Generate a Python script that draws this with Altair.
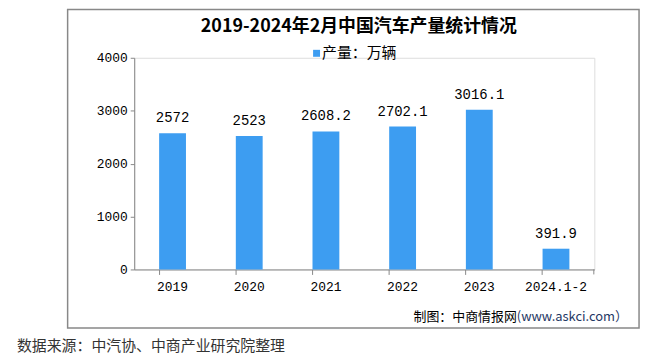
import altair as alt
import pandas as pd

categories = ["2019", "2020", "2021", "2022", "2023", "2024.1-2"]
values = [2572, 2523, 2608.2, 2702.1, 3016.1, 391.9]
labels = ["2572", "2523", "2608.2", "2702.1", "3016.1", "391.9"]
title_text = "2019-2024年2月中国汽车产量统计情况"
legend_text = "产量：万辆"
credit_text = "制图：中商情报网"
credit_url = "(www.askci.com）"
source_text = "数据来源：中汽协、中商产业研究院整理"

BLUE = "#3d9df1"
GREY = "#888888"
CJK = "Noto Sans CJK SC"
NUM = "Liberation Mono"

df = pd.DataFrame({"cat": categories, "val": values, "lab": labels})

W, H = 463, 213

xenc = alt.X("cat:N", sort=categories, title=None,
             scale=alt.Scale(paddingInner=0.65, paddingOuter=0.325),
             axis=alt.Axis(labelAngle=0, labelFont=NUM, labelFontSize=13, labelColor="#000",
                           labelPadding=6, domainColor=GREY, tickColor=GREY, tickSize=5,
                           bandPosition=0, grid=False))
yenc = alt.Y("val:Q", title=None,
             scale=alt.Scale(domain=[0, 4000], nice=False),
             axis=alt.Axis(values=[0, 1000, 2000, 3000, 4000], format="d", labelFont=NUM,
                           labelFontSize=13, labelColor="#000", domainColor=GREY,
                           tickColor=GREY, tickSize=4, labelPadding=3, grid=False))

bars = alt.Chart(df).mark_bar(color=BLUE).encode(x=xenc, y=yenc)
text = alt.Chart(df).mark_text(dy=-15, font=NUM, fontSize=14, color="#000").encode(
    x=alt.X("cat:N", sort=categories), y="val:Q", text="lab:N")

one = pd.DataFrame({"a": [0]})

end_tick = alt.Chart(one).mark_rule(color=GREY, strokeWidth=1).encode(
    x=alt.value(W - 0.5), y=alt.value(H), y2=alt.value(H + 5))

box = alt.Chart(one).mark_rect(fill=None, stroke=GREY, strokeWidth=1.5).encode(
    x=alt.value(-67), x2=alt.value(508), y=alt.value(-48.5), y2=alt.value(272))

title = alt.Chart(one).mark_text(font=CJK, fontSize=18, fontWeight="bold", color="#000",
                                 align="center", baseline="middle").encode(
    x=alt.value(226), y=alt.value(-30.5), text=alt.value(title_text))

leg_sq = alt.Chart(one).mark_square(size=49, color=BLUE, opacity=1).encode(
    x=alt.value(183.5), y=alt.value(-4.5))
leg_tx = alt.Chart(one).mark_text(font=CJK, fontSize=15, color="#000", align="left",
                                  baseline="middle").encode(
    x=alt.value(189), y=alt.value(-4.5), text=alt.value(legend_text))

cred1 = alt.Chart(one).mark_text(font=CJK, fontSize=13, color="#000", align="right",
                                 baseline="middle").encode(
    x=alt.value(385), y=alt.value(261), text=alt.value(credit_text))
cred2 = alt.Chart(one).mark_text(font=CJK, fontSize=13, color="#1f3864", align="left",
                                 baseline="middle").encode(
    x=alt.value(385), y=alt.value(261), text=alt.value(credit_url))

source = alt.Chart(one).mark_text(font=CJK, fontSize=15, color="#333", align="left",
                                  baseline="bottom").encode(
    x=alt.value(-118), y=alt.value(298), text=alt.value(source_text))

chart = alt.layer(box, bars, end_tick, text, title, leg_sq, leg_tx, cred1, cred2, source).properties(
    width=W, height=H,
    autosize=alt.AutoSizeParams(type="none"),
    padding={"left": 127, "top": 49, "right": 52, "bottom": 86},
).configure_view(stroke=None).configure(background="white")

chart.save("out.html", embed_options={"renderer": "svg", "actions": False})
